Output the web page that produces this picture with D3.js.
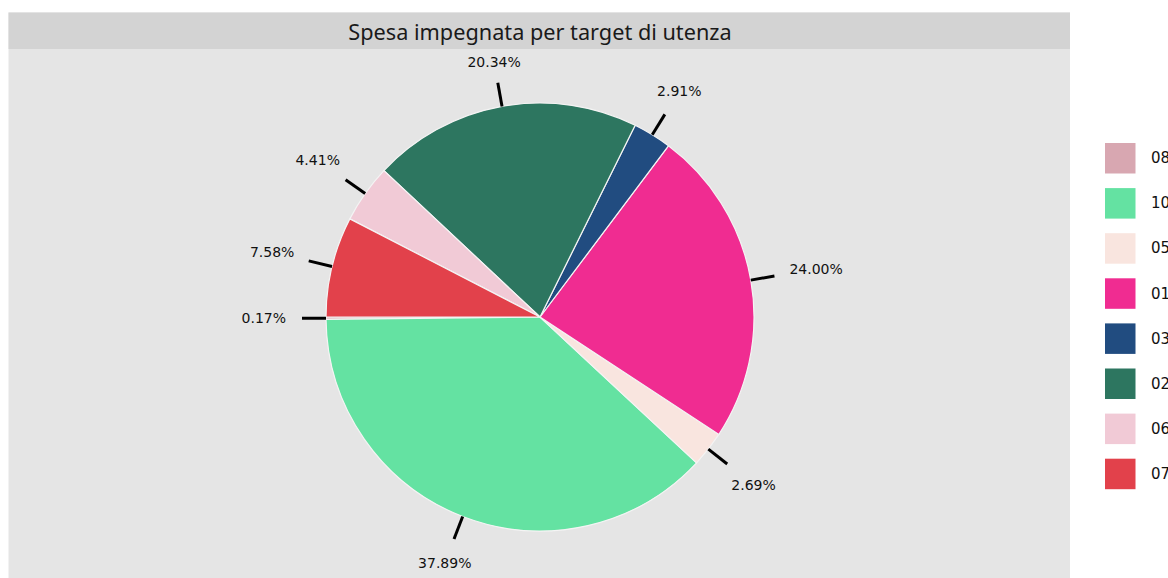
<!DOCTYPE html>
<html>
<head>
<meta charset="utf-8">
<script src="https://cdn.jsdelivr.net/npm/d3@7"></script>
<style>
  html, body { margin: 0; padding: 0; background: #ffffff; }
  svg { display: block; }
</style>
</head>
<body>
<svg id="chart" width="1168" height="578"></svg>
<script>
// Spending committed per user target, share of total (%)
const categories = ["08", "10", "05", "01", "03", "02", "06", "07"];
const shares = [0.17, 37.89, 2.69, 24.00, 2.91, 20.34, 4.41, 7.58];
const palette = ["#d8a7b1", "#64e2a2", "#f9e5df", "#f02c91", "#214c80", "#2d7660", "#f1cad6", "#e2414b"];

const W = 1168, H = 578;
const svg = d3.select("#chart");

// panel and strip
const panel = { x: 8.5, y: 12.5, w: 1061.5, h: H - 12.5 };
const stripH = 36.5;

svg.append("rect")
  .attr("x", panel.x).attr("y", panel.y)
  .attr("width", panel.w).attr("height", panel.h)
  .attr("fill", "#e5e5e5");

svg.append("rect")
  .attr("x", panel.x).attr("y", panel.y)
  .attr("width", panel.w).attr("height", stripH)
  .attr("fill", "#d3d3d3");

svg.append("text")
  .attr("x", 540).attr("y", panel.y + stripH / 2 + 1)
  .attr("text-anchor", "middle")
  .attr("dominant-baseline", "central")
  .attr("font-family", "'Noto Sans', 'DejaVu Sans', sans-serif")
  .attr("font-size", 21.7)
  .attr("fill", "#1a1a1a")
  .text("Spesa impegnata per target di utenza");

// pie: starts at nine o'clock and runs counter-clockwise
const cx = 540, cy = 317, r = 214;
const start = -Math.PI / 2;

const pie = d3.pie()
  .sort(null)
  .value(d => d)
  .startAngle(start)
  .endAngle(start - 2 * Math.PI);

const arcs = pie(shares);
const arc = d3.arc().innerRadius(0).outerRadius(r);
const color = d3.scaleOrdinal().domain(categories).range(palette);

const g = svg.append("g").attr("transform", `translate(${cx},${cy})`);

g.selectAll("path.slice")
  .data(arcs)
  .join("path")
  .attr("class", "slice")
  .attr("d", arc)
  .attr("fill", (d, i) => color(categories[i]))
  .attr("stroke", "#f4f4f4")
  .attr("stroke-width", 1.2);

// ticks and percentage labels
const tickIn = r, tickOut = r + 24;
arcs.forEach((d, i) => {
  const a = (d.startAngle + d.endAngle) / 2;
  const sx = Math.sin(a), sy = -Math.cos(a);
  g.append("line")
    .attr("x1", sx * tickIn).attr("y1", sy * tickIn)
    .attr("x2", sx * tickOut).attr("y2", sy * tickOut)
    .attr("stroke", "#000")
    .attr("stroke-width", 3);

  const t = g.append("text")
    .attr("text-anchor", "middle")
    .attr("dominant-baseline", "central")
    .attr("font-family", "'DejaVu Sans', sans-serif")
    .attr("font-size", 14)
    .attr("fill", "#111")
    .text(shares[i].toFixed(2) + "%");
  const hw = t.node().getComputedTextLength() / 2;
  const R = r + 40 + hw * Math.abs(sx);
  t.attr("x", sx * R).attr("y", sy * R);
});

// legend
const legend = svg.append("g").attr("transform", "translate(1105,143)");
const step = 45.1, box = 30.5;
categories.forEach((c, i) => {
  legend.append("rect")
    .attr("x", 0).attr("y", i * step)
    .attr("width", box).attr("height", box)
    .attr("fill", color(c));
  legend.append("text")
    .attr("x", 46).attr("y", i * step + box / 2)
    .attr("dominant-baseline", "central")
    .attr("font-family", "'DejaVu Sans', sans-serif")
    .attr("font-size", 15)
    .attr("fill", "#111")
    .text(c);
});
</script>
</body>
</html>
